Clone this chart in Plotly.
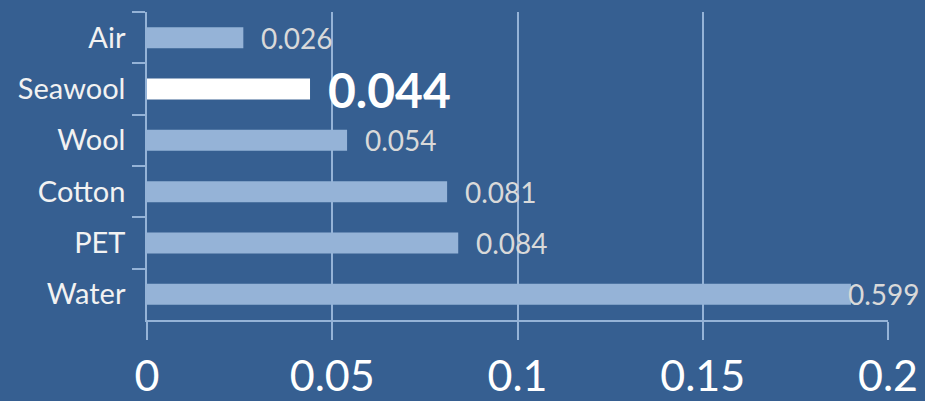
import plotly.graph_objects as go

categories = ["Air", "Seawool", "Wool", "Cotton", "PET", "Water"]
values = [0.026, 0.044, 0.054, 0.081, 0.084, 0.599]
# drawn bar length as shown in the picture (Water bar is truncated in the chart)
bar_lengths = [0.026, 0.044, 0.054, 0.081, 0.084, 0.19]
label_texts = ["0.026", "0.044", "0.054", "0.081", "0.084", "0.599"]
x_ticks = [0, 0.05, 0.1, 0.15, 0.2]
x_tick_labels = ["0", "0.05", "0.1", "0.15", "0.2"]
highlight = "Seawool"

BG = "#365F91"
BAR = "#95B3D7"
LINE = "#95B3D7"
FONT = "Lato, 'Open Sans', sans-serif"

bar_colors = ["#FFFFFF" if c == highlight else BAR for c in categories]

fig = go.Figure()
fig.add_trace(go.Bar(
    x=bar_lengths, y=categories, orientation="h",
    marker=dict(color=bar_colors, line=dict(width=0)),
    width=0.41, hoverinfo="skip",
))

for c, v, t in zip(categories, bar_lengths, label_texts):
    is_hi = c == highlight
    is_clip = c == "Water"
    fig.add_annotation(
        x=v, y=c, xref="x", yref="y",
        text=f"<b>{t}</b>" if is_hi else t,
        showarrow=False, xanchor="left", yanchor="middle",
        xshift=-5 if is_clip else 16,
        font=dict(family=FONT, size=48 if is_hi else 28,
                  color="#FFFFFF" if is_hi else "#D9D9D9"),
    )

fig.update_layout(
    width=925, height=401,
    paper_bgcolor=BG, plot_bgcolor=BG,
    margin=dict(l=147, r=37, t=12, b=81, autoexpand=False),
    showlegend=False, bargap=0.59,
    font=dict(family=FONT, color="#F2F2F2"),
)
fig.update_xaxes(
    range=[0, 0.2], tickvals=x_ticks, ticktext=x_tick_labels,
    showgrid=True, gridcolor=LINE, gridwidth=1.5,
    zeroline=False, showline=True, linecolor=LINE, linewidth=1.5,
    ticks="outside", ticklen=18, tickcolor=LINE, tickwidth=1.5,
    tickfont=dict(family=FONT, size=43, color="#FFFFFF"),
    automargin=False,
)
fig.update_yaxes(
    categoryorder="array", categoryarray=categories, autorange="reversed",
    showgrid=False, showline=True, linecolor=LINE, linewidth=1.5,
    ticks="outside", ticklen=13, tickcolor=LINE, tickwidth=1.5,
    tickson="boundaries", ticklabelstandoff=14,
    tickfont=dict(family=FONT, size=29, color="#F2F2F2"),
    automargin=False,
)

fig.write_html("out.html", config={"displayModeBar": False})
with open("out.html", "r", encoding="utf-8") as f:
    html = f.read()
html = html.replace("<body>", '<body style="margin:0;padding:0;overflow:hidden;">', 1)
with open("out.html", "w", encoding="utf-8") as f:
    f.write(html)
